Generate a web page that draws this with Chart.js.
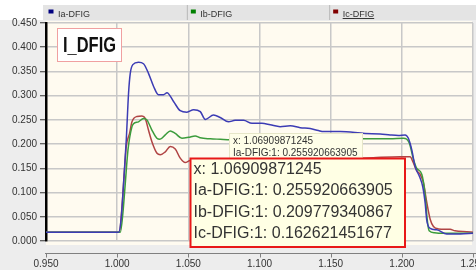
<!DOCTYPE html>
<html>
<head>
<meta charset="utf-8">
<script src="https://cdn.jsdelivr.net/npm/chart.js@4.4.1/dist/chart.umd.min.js"></script>
<style>
  body { margin: 0; background: #ededed; }
  canvas { display: block; }
</style>
</head>
<body>
<canvas id="grafico" width="476" height="270"></canvas>
<script>
// Datos
const tiempoIa = [0.95, 1.001, 1.0027, 1.0045, 1.0064, 1.008, 1.0092, 1.011, 1.015, 1.0185, 1.022, 1.0256, 1.029, 1.0326, 1.035, 1.0396, 1.0443, 1.049, 1.0537, 1.0584, 1.0619, 1.0677, 1.0724, 1.0782, 1.0829, 1.0888, 1.0947, 1.1017, 1.1075, 1.1145, 1.1216, 1.1286, 1.1356, 1.1414, 1.145, 1.1567, 1.1742, 1.1848, 1.1918, 1.1976, 1.2023, 1.2046, 1.207, 1.2093, 1.2124, 1.2147, 1.2164, 1.2175, 1.2199, 1.2246, 1.2316, 1.241, 1.25];
const valoresIa = [0.018, 0.018, 0.043, 0.119, 0.209, 0.305, 0.346, 0.364, 0.369, 0.366, 0.346, 0.319, 0.302, 0.302, 0.306, 0.288, 0.269, 0.266, 0.271, 0.267, 0.251, 0.26, 0.255, 0.246, 0.249, 0.249, 0.243, 0.243, 0.24, 0.236, 0.238, 0.234, 0.232, 0.228, 0.226, 0.226, 0.222, 0.221, 0.219, 0.218, 0.219, 0.212, 0.188, 0.154, 0.133, 0.112, 0.078, 0.043, 0.026, 0.023, 0.0145, 0.0145, 0.016];

const tiempoIb = [0.95, 1.0022, 1.004, 1.0057, 1.0076, 1.0104, 1.0115, 1.015, 1.0185, 1.0209, 1.0244, 1.0279, 1.03, 1.0338, 1.0373, 1.0408, 1.0455, 1.0502, 1.0548, 1.0584, 1.0654, 1.0724, 1.0795, 1.1, 1.13, 1.16, 1.1918, 1.2011, 1.2053, 1.208, 1.2105, 1.214, 1.2164, 1.2178, 1.2192, 1.223, 1.2269, 1.25];
const valoresIb = [0.018, 0.018, 0.057, 0.119, 0.188, 0.236, 0.242, 0.246, 0.253, 0.25, 0.229, 0.212, 0.21, 0.219, 0.227, 0.222, 0.212, 0.214, 0.217, 0.213, 0.211, 0.21, 0.209, 0.21, 0.211, 0.211, 0.211, 0.212, 0.202, 0.17, 0.15, 0.138, 0.095, 0.045, 0.021, 0.017, 0.016, 0.016];

const tiempoIc = [0.95, 1.0015, 1.0034, 1.005, 1.0064, 1.0087, 1.0104, 1.0139, 1.0174, 1.0197, 1.022, 1.0244, 1.028, 1.0303, 1.0338, 1.0373, 1.0408, 1.0443, 1.0478, 1.0513, 1.056, 1.069, 1.09, 1.12, 1.15, 1.18, 1.1988, 1.2058, 1.208, 1.2105, 1.2128, 1.2152, 1.2175, 1.2199, 1.2222, 1.2257, 1.2339, 1.2374, 1.2456, 1.25];
const valoresIc = [0.018, 0.018, 0.071, 0.14, 0.195, 0.222, 0.246, 0.257, 0.258, 0.253, 0.229, 0.205, 0.181, 0.178, 0.184, 0.195, 0.19, 0.171, 0.162, 0.166, 0.164, 0.1626, 0.163, 0.165, 0.168, 0.172, 0.174, 0.174, 0.162, 0.145, 0.138, 0.12, 0.08, 0.045, 0.03, 0.025, 0.024, 0.021, 0.019, 0.018];

const nombres = ['Ia-DFIG', 'Ib-DFIG', 'Ic-DFIG'];
const colores = ['#3c3cb4', '#3c9c3c', '#b04444'];
const coloresLeyenda = ['#000080', '#008000', '#800000'];

const titulo = 'I_DFIG';
const cursorX = '1.06909871245';
const etiquetasTooltip = ['Ia-DFIG:1', 'Ib-DFIG:1', 'Ic-DFIG:1'];
const valoresTooltip = ['0.255920663905', '0.209779340867', '0.162621451677'];

const grafico = document.getElementById('grafico');

// Une tiempos y valores en puntos {x, y}
function puntos(tiempos, valores) {
    return tiempos.map((t, i) => ({ x: t, y: valores[i] }));
}

// Fondos: barra de leyenda y area crema
const fondo = {
    id: 'fondo',
    beforeDraw(chart) {
        const ctx = chart.ctx;
        const a = chart.chartArea;
        ctx.save();
        ctx.fillStyle = '#ededed';
        ctx.fillRect(0, 0, chart.width, chart.height);
        ctx.fillStyle = '#ffffff';
        ctx.fillRect(0, 0, chart.width, 5);
        ctx.fillRect(0, 0, a.left - 3, a.top - 3);
        ctx.fillStyle = '#e4e4e4';
        ctx.fillRect(a.left - 3, 5, chart.width, a.top - 8);
        ctx.fillStyle = '#fffbf0';
        ctx.fillRect(a.left, a.top - 2, a.right - 1 - a.left, a.bottom - a.top + 6);
        ctx.restore();
    }
};

// Leyenda, eje x separado, titulo y tooltips
const extras = {
    id: 'extras',
    afterDraw(chart) {
        const ctx = chart.ctx;
        const a = chart.chartArea;
        const escalaX = chart.scales.x;
        ctx.save();

        // leyenda en columnas
        const ancho = a.width / 3;
        ctx.font = '9px Arial';
        ctx.textBaseline = 'alphabetic';
        chart.data.datasets.forEach((ds, i) => {
            const col = a.left + i * ancho;
            if (i > 0) {
                ctx.fillStyle = '#b8b8b8';
                ctx.fillRect(col - 1.5, 5, 1, a.top - 8);
            }
            ctx.fillStyle = coloresLeyenda[i];
            ctx.fillRect(col + 2.5, 9.5, 5, 4);
            ctx.fillStyle = '#333';
            ctx.fillText(ds.label, col + 12, 16.5);
            if (i === 2) {
                const w = ctx.measureText(ds.label).width;
                ctx.fillRect(col + 12, 18, w, 1);
            }
        });

        // linea del eje x
        const yEje = a.bottom + 12.5;
        ctx.strokeStyle = '#808080';
        ctx.lineWidth = 1;
        ctx.beginPath();
        ctx.moveTo(a.left - 1, yEje);
        ctx.lineTo(chart.width, yEje);
        escalaX.ticks.forEach(t => {
            const px = Math.round(escalaX.getPixelForValue(t.value)) + 0.5;
            ctx.moveTo(px, yEje);
            ctx.lineTo(px, yEje + 4);
        });
        ctx.stroke();

        // cuadro del titulo
        ctx.fillStyle = '#ffffff';
        ctx.fillRect(57.5, 28.5, 64, 33);
        ctx.strokeStyle = '#f0a0a0';
        ctx.strokeRect(57.5, 28.5, 64, 33);
        ctx.fillStyle = '#111';
        ctx.font = 'bold 22px Arial';
        ctx.textBaseline = 'middle';
        ctx.textAlign = 'center';
        const wt = ctx.measureText(titulo).width;
        ctx.save();
        ctx.translate(89.5, 46);
        ctx.scale(53 / wt, 1);
        ctx.fillText(titulo, 0, 0);
        ctx.restore();
        ctx.textAlign = 'left';

        // tooltip pequeño
        ctx.fillStyle = '#fefee8';
        ctx.fillRect(229, 133, 134, 30);
        ctx.strokeStyle = '#e6e6c8';
        ctx.strokeRect(229.5, 133.5, 133, 29);
        ctx.fillStyle = '#333';
        ctx.font = '10px Arial';
        ctx.fillText('x: ' + cursorX, 233, 141);
        ctx.fillText(etiquetasTooltip[0] + ': ' + valoresTooltip[0], 233, 153.5);

        // tooltip grande
        ctx.fillStyle = '#ffffe4';
        ctx.fillRect(190, 158, 215, 89);
        ctx.strokeStyle = '#e81818';
        ctx.lineWidth = 2;
        ctx.strokeRect(190.5, 158.5, 214.5, 88.5);
        ctx.fillStyle = '#333';
        ctx.font = '16px Arial';
        ctx.fillText('x: ' + cursorX, 193.5, 169.5);
        etiquetasTooltip.forEach((et, i) => {
            ctx.fillText(et + ': ' + valoresTooltip[i], 193.5, 191 + i * 21.5);
        });

        ctx.restore();
    }
};

const config = {
    type: 'line',
    data: {
        datasets: [
            { label: nombres[0], data: puntos(tiempoIa, valoresIa), borderColor: colores[0] },
            { label: nombres[1], data: puntos(tiempoIb, valoresIb), borderColor: colores[1] },
            { label: nombres[2], data: puntos(tiempoIc, valoresIc), borderColor: colores[2] }
        ]
    },
    options: {
        responsive: false,
        animation: false,
        parsing: false,
        layout: { padding: { top: 23, right: 3, left: 0, bottom: 0 } },
        elements: {
            point: { radius: 0 },
            line: { borderWidth: 1.5, cubicInterpolationMode: 'monotone' }
        },
        plugins: { legend: { display: false }, tooltip: { enabled: false } },
        scales: {
            x: {
                type: 'linear',
                min: 0.95,
                max: 1.25,
                border: { display: false },
                grid: { color: '#c8c8c8', lineWidth: 1.5, drawTicks: false },
                ticks: {
                    stepSize: 0.05,
                    autoSkip: false,
                    maxRotation: 0,
                    padding: 17,
                    color: '#333',
                    font: { family: 'Arial', size: 10 },
                    callback: v => Number(v).toFixed(3)
                },
                afterFit(s) {
                    s.height = 29;
                    s.paddingLeft = 0; s.paddingRight = 0;
                }
            },
            y: {
                min: 0,
                max: 0.45,
                border: { display: true, color: '#000', width: 2.5 },
                grid: { color: '#c8c8c8', lineWidth: 1.5, tickColor: '#333', tickLength: 6, tickWidth: 1 },
                ticks: {
                    stepSize: 0.05,
                    padding: 3,
                    color: '#333',
                    font: { family: 'Arial', size: 10 },
                    callback: v => Number(v).toFixed(3)
                },
                afterFit(s) {
                    s.width = 46;
                    s.paddingTop = 0; s.paddingBottom = 0;
                }
            }
        }
    },
    plugins: [fondo, extras]
};

new Chart(grafico, config);
</script>
</body>
</html>
